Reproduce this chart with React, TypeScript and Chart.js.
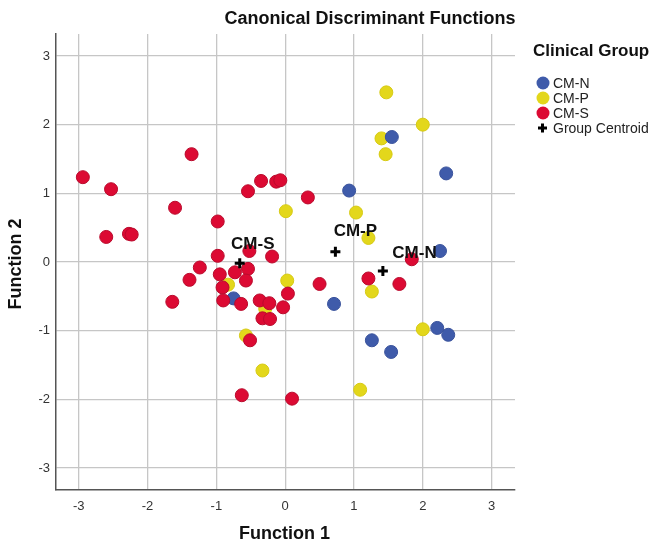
import React, { useEffect, useRef } from "react";
import { Chart, registerables } from "chart.js";

Chart.register(...registerables);

// Function 1 / Function 2 scores per clinical group
const cmNX = [1.55, 2.34, 0.93, 2.25, 0.71, 2.21, 2.37, 1.26, 1.54, -0.75];
const cmNY = [1.82, 1.29, 1.04, 0.16, -0.61, -0.96, -1.06, -1.14, -1.31, -0.53];

const cmPX = [1.47, 2.0, 1.4, 1.46, 0.01, 1.03, 1.21, 0.03, 1.26, -0.83, -0.29, -0.57, -0.33, 2.0, 1.09];
const cmPY = [2.47, 2.0, 1.8, 1.57, 0.74, 0.72, 0.35, -0.27, -0.43, -0.33, -0.68, -1.07, -1.58, -0.98, -1.86];

const cmSX = [
  -2.94, -2.53, -1.36, -1.6, -2.6, -2.27, -2.23, -0.98, -0.54, -0.35, -0.13, -0.07, 0.33,
  -0.98, -0.52, -0.19, -1.24, -1.39, -0.95, -0.73, -0.54, -0.57, -0.91, -1.64, -0.9, -0.64,
  -0.37, -0.23, -0.33, -0.22, -0.03, 0.04, 0.5, 1.21, 1.66, 1.84, -0.51, -0.63, 0.1,
];
const cmSY = [
  1.235, 1.06, 1.57, 0.79, 0.365, 0.41, 0.4, 0.59, 1.03, 1.18, 1.17, 1.19, 0.94,
  0.09, 0.16, 0.08, -0.08, -0.26, -0.18, -0.15, -0.1, -0.27, -0.37, -0.58, -0.56, -0.61,
  -0.56, -0.6, -0.82, -0.83, -0.66, -0.46, -0.32, -0.24, -0.32, 0.04, -1.14, -1.94, -1.99,
];

const centroidNames = ["CM-S", "CM-P", "CM-N"];
const centroidX = [-0.66, 0.73, 1.42];
const centroidY = [-0.02, 0.15, -0.13];
// where each centroid's name is written (data units)
const centroidLabelX = [-0.47, 1.02, 1.88];
const centroidLabelY = [0.26, 0.44, 0.13];

const groupNames = ["CM-N", "CM-P", "CM-S"];
const groupColors = ["#3F5BAA", "#E3D71B", "#DC0A33"];
const groupBorders = ["#3A539C", "#D6CA14", "#B90A2C"];

const tickValues = [-3, -2, -1, 0, 1, 2, 3];

const FONT = "Arial, 'Liberation Sans', Helvetica, sans-serif";

const toPoints = (xs: number[], ys: number[]) => xs.map((x, i) => ({ x, y: ys[i] }));

const overlayPlugin = {
  id: "overlay",
  afterDatasetsDraw(chart: any) {
    const ctx = chart.ctx;
    const { chartArea, scales } = chart;
    ctx.save();
    // centroid labels
    ctx.fillStyle = "#111";
    ctx.font = `bold 17px ${FONT}`;
    ctx.textAlign = "center";
    ctx.textBaseline = "middle";
    centroidNames.forEach((n, i) => {
      ctx.fillText(n, scales.x.getPixelForValue(centroidLabelX[i]), scales.y.getPixelForValue(centroidLabelY[i]));
    });

    // chart title
    ctx.font = `bold 18px ${FONT}`;
    ctx.fillStyle = "#111";
    ctx.fillText("Canonical Discriminant Functions", chartArea.left + 314, 19);

    // axis titles
    ctx.font = `bold 18px ${FONT}`;
    ctx.fillText("Function 1", (chartArea.left + chartArea.right) / 2 - 1, chartArea.bottom + 44);
    ctx.save();
    ctx.translate(chartArea.left - 40, (chartArea.top + chartArea.bottom) / 2 + 2);
    ctx.rotate(-Math.PI / 2);
    ctx.fillText("Function 2", 0, 0);
    ctx.restore();

    // legend
    const lx = chartArea.right + 18;
    ctx.textAlign = "left";
    ctx.font = `bold 17px ${FONT}`;
    ctx.fillText("Clinical Group", lx, 51.5);
    ctx.font = `14px ${FONT}`;
    groupNames.forEach((g, i) => {
      const cy = 83 + i * 15;
      ctx.beginPath();
      ctx.arc(lx + 10, cy, 6.5, 0, Math.PI * 2);
      ctx.fillStyle = groupColors[i];
      ctx.fill();
      ctx.fillStyle = "#222";
      ctx.fillText(g, lx + 20, cy + 1);
    });
    const cy = 83 + 3 * 15;
    ctx.strokeStyle = "#000";
    ctx.lineWidth = 3;
    ctx.beginPath();
    ctx.moveTo(lx + 5, cy);
    ctx.lineTo(lx + 14, cy);
    ctx.moveTo(lx + 9.5, cy - 4.5);
    ctx.lineTo(lx + 9.5, cy + 4.5);
    ctx.stroke();
    ctx.fillStyle = "#222";
    ctx.fillText("Group Centroid", lx + 20, cy + 1);
    ctx.restore();
  },
};

export default function App() {
  const ref = useRef<HTMLCanvasElement | null>(null);

  useEffect(() => {
    if (!ref.current) return;
    const scatter = (i: number, xs: number[], ys: number[], order: number) => ({
      label: groupNames[i],
      data: toPoints(xs, ys),
      backgroundColor: groupColors[i],
      borderColor: groupBorders[i],
      borderWidth: 1,
      pointRadius: 6.5,
      order,
    });
    const chart = new Chart(ref.current, {
      type: "scatter",
      data: {
        datasets: [
          scatter(1, cmPX, cmPY, 3),
          scatter(0, cmNX, cmNY, 2),
          scatter(2, cmSX, cmSY, 1),
          {
            label: "Group Centroid",
            data: toPoints(centroidX, centroidY),
            pointStyle: "cross",
            pointRadius: 5,
            borderColor: "#000",
            backgroundColor: "#000",
            borderWidth: 3,
            order: 0,
          } as any,
        ],
      },
      options: {
        animation: false,
        responsive: false,
        events: [],
        layout: { padding: { left: 0, top: 34, right: 142, bottom: 0 } },
        plugins: { legend: { display: false }, title: { display: false }, tooltip: { enabled: false } },
        scales: {
          x: {
            type: "linear",
            min: -3.33,
            max: 3.34,
            afterFit: (s: any) => {
              s.height = 54;
            },
            afterBuildTicks: (s: any) => {
              s.ticks = tickValues.map((v) => ({ value: v }));
            },
            ticks: { includeBounds: false, padding: 9, color: "#333", font: { family: FONT, size: 13 } },
            grid: { color: "#C6C6C6", lineWidth: 1.3, drawTicks: false },
            border: { display: true, color: "#555", width: 1.5 },
          },
          y: {
            type: "linear",
            min: -3.32,
            max: 3.32,
            afterFit: (s: any) => {
              s.width = 56;
            },
            afterBuildTicks: (s: any) => {
              s.ticks = tickValues.map((v) => ({ value: v }));
            },
            ticks: { includeBounds: false, padding: 6, color: "#333", font: { family: FONT, size: 13 } },
            grid: { color: "#C6C6C6", lineWidth: 1.3, drawTicks: false },
            border: { display: true, color: "#555", width: 1.5 },
          },
        },
      } as any,
      plugins: [overlayPlugin],
    });
    return () => chart.destroy();
  }, []);

  return (
    <div style={{ position: "fixed", left: 0, top: 0, width: 657, height: 544, background: "#fff" }}>
      <canvas ref={ref} width={657} height={544} style={{ display: "block" }} />
    </div>
  );
}
